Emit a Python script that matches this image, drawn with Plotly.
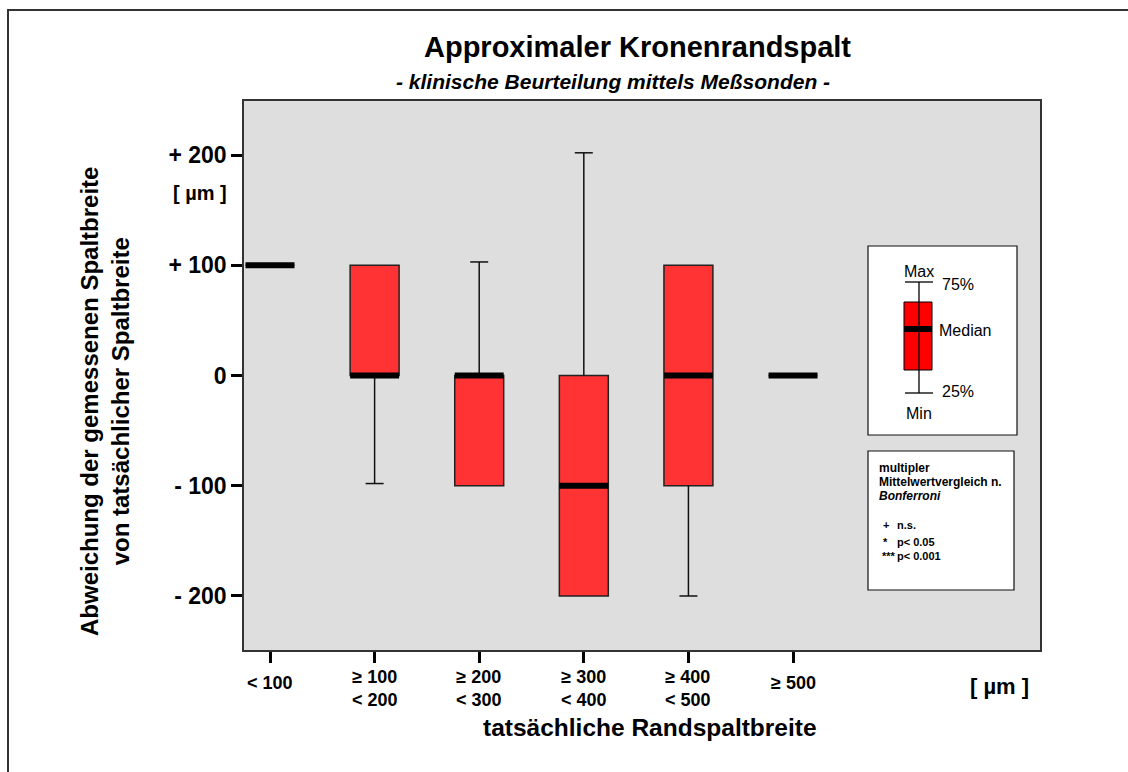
import plotly.graph_objects as go

# ---------------- data ----------------
categories = ["< 100", "≥ 100<br>< 200", "≥ 200<br>< 300", "≥ 300<br>< 400", "≥ 400<br>< 500", "≥ 500"]
minimum = [100, -98, -100, -200, -200, 0]
q1 = [100, 0, -100, -200, -100, 0]
median = [100, 0, 0, -100, 0, 0]
q3 = [100, 100, 0, 0, 100, 0]
maximum = [100, 100, 103, 202, 100, 0]
y_tickvals = [-200, -100, 0, 100, 200]
y_ticktext = ["- 200", "- 100", "0", "+ 100", "+ 200"]

FONT = "Liberation Sans, Arial, Helvetica, sans-serif"
W, H = 1128, 772
L, R, T, B = 244, 1040, 101, 650
pos = list(range(len(categories)))
half = 0.234
cap = 0.086


def px(x):
    return (x - L) / (R - L)


def py(y):
    return (B - y) / (B - T)


fig = go.Figure()

# boxes
fig.add_trace(go.Bar(
    x=pos, base=q1, y=[b - a for a, b in zip(q1, q3)], width=2 * half,
    marker=dict(color="#FF3333", line=dict(color="#222222", width=1.5)),
    showlegend=False, hoverinfo="skip"))

# whiskers
wx, wy = [], []
for i, p in enumerate(pos):
    if maximum[i] > q3[i]:
        wx += [p, p, None, p - cap, p + cap, None]
        wy += [q3[i], maximum[i], None, maximum[i], maximum[i], None]
    if minimum[i] < q1[i]:
        wx += [p, p, None, p - cap, p + cap, None]
        wy += [q1[i], minimum[i], None, minimum[i], minimum[i], None]
fig.add_trace(go.Scatter(x=wx, y=wy, mode="lines", line=dict(color="#111111", width=1.5),
                         showlegend=False, hoverinfo="skip"))

# medians
mx, my = [], []
for i, p in enumerate(pos):
    mx += [p - half, p + half, None]
    my += [median[i], median[i], None]
fig.add_trace(go.Scatter(x=mx, y=my, mode="lines", line=dict(color="black", width=6),
                         showlegend=False, hoverinfo="skip"))

shapes = []
annotations = []

# outer frame
shapes.append(dict(type="rect", xref="paper", yref="paper", x0=px(8), y0=py(10), x1=px(1160), y1=py(800),
                   line=dict(color="#333333", width=2), fillcolor="rgba(0,0,0,0)", layer="below"))

# legend box 1
shapes.append(dict(type="rect", xref="paper", yref="paper", x0=px(868), y0=py(246), x1=px(1017), y1=py(435),
                   line=dict(color="#111111", width=1.2), fillcolor="white"))
shapes.append(dict(type="line", xref="paper", yref="paper", x0=px(919), y0=py(282), x1=px(919), y1=py(393),
                   line=dict(color="black", width=1.3)))
shapes.append(dict(type="line", xref="paper", yref="paper", x0=px(905), y0=py(282), x1=px(933), y1=py(282),
                   line=dict(color="black", width=1.3)))
shapes.append(dict(type="line", xref="paper", yref="paper", x0=px(905), y0=py(393), x1=px(933), y1=py(393),
                   line=dict(color="black", width=1.3)))
shapes.append(dict(type="rect", xref="paper", yref="paper", x0=px(904), y0=py(302), x1=px(932), y1=py(370),
                   line=dict(color="black", width=1), fillcolor="#FF0000"))
shapes.append(dict(type="line", xref="paper", yref="paper", x0=px(919), y0=py(302), x1=px(919), y1=py(370),
                   line=dict(color="black", width=1.3)))
shapes.append(dict(type="line", xref="paper", yref="paper", x0=px(904), y0=py(329), x1=px(932), y1=py(329),
                   line=dict(color="black", width=6)))

# legend box 2
shapes.append(dict(type="rect", xref="paper", yref="paper", x0=px(868), y0=py(451), x1=px(1014), y1=py(590),
                   line=dict(color="#111111", width=1.2), fillcolor="white"))


def ann(text, x, y, size, xanchor="center", bold=True, italic=False, angle=0, color="black"):
    annotations.append(dict(
        text=text, xref="paper", yref="paper", x=px(x), y=py(y), xanchor=xanchor, yanchor="middle",
        showarrow=False, textangle=angle,
        font=dict(family=FONT, size=size, color=color, weight="bold" if bold else "normal",
                  style="italic" if italic else "normal")))


# legend 1 text
ann("Max", 919, 271, 16, bold=False)
ann("75%", 940, 284, 16, xanchor="left", bold=False)
ann("Median", 937, 330, 16, xanchor="left", bold=False)
ann("25%", 940, 392, 16, xanchor="left", bold=False)
ann("Min", 919, 413, 16, bold=False)

# legend 2 text
ann("multipler", 877, 468, 12, xanchor="left")
ann("Mittelwertvergleich n.", 877, 482, 12, xanchor="left")
ann("Bonferroni", 877, 496, 12, xanchor="left", italic=True)
ann("+", 881, 525, 11, xanchor="left")
ann("n.s.", 895, 525, 11, xanchor="left")
ann("*", 881, 542, 11, xanchor="left")
ann("p< 0.05", 895, 542, 11, xanchor="left")
ann("***", 880, 556, 11, xanchor="left")
ann("p< 0.001", 895, 556, 11, xanchor="left")

# titles
ann("Approximaler Kronenrandspalt", 637, 47, 29)
ann("- klinische Beurteilung mittels Meßsonden -", 613, 81, 21, italic=True)
ann("Abweichung der gemessenen Spaltbreite<br>von tatsächlicher Spaltbreite", 105, 402, 24, angle=-90)
ann("[ µm ]", 200, 193, 20)
ann("[ µm ]", 999, 686, 22)
ann("tatsächliche Randspaltbreite", 650, 727, 24.5)

# x tick labels
for p, lab in zip(pos, categories):
    annotations.append(dict(
        text=lab, xref="x", yref="paper", x=p, y=py(688 if "<br>" in lab else 683),
        xanchor="center", yanchor="middle", showarrow=False,
        font=dict(family=FONT, size=18, color="black", weight="bold")))

fig.update_layout(
    width=W, height=H,
    margin=dict(l=L, r=W - R, t=T, b=H - B, pad=0),
    paper_bgcolor="white", plot_bgcolor="#DEDEDE",
    shapes=shapes, annotations=annotations,
    showlegend=False,
    xaxis=dict(range=[-0.2486, 7.361], tickvals=pos, showticklabels=False, ticks="outside",
               ticklen=11, tickwidth=3, tickcolor="black", showline=True, mirror=True,
               linecolor="#333333", linewidth=1.5, showgrid=False, zeroline=False, fixedrange=True),
    yaxis=dict(range=[-249, 249], tickvals=y_tickvals, ticktext=y_ticktext, ticks="outside",
               ticklen=11, tickwidth=3, tickcolor="black", showline=True, mirror=True,
               linecolor="#333333", linewidth=1.5, showgrid=False, zeroline=False,
               tickfont=dict(family=FONT, size=23, color="black", weight="bold"), fixedrange=True),
)

fig.write_html("out.html")
